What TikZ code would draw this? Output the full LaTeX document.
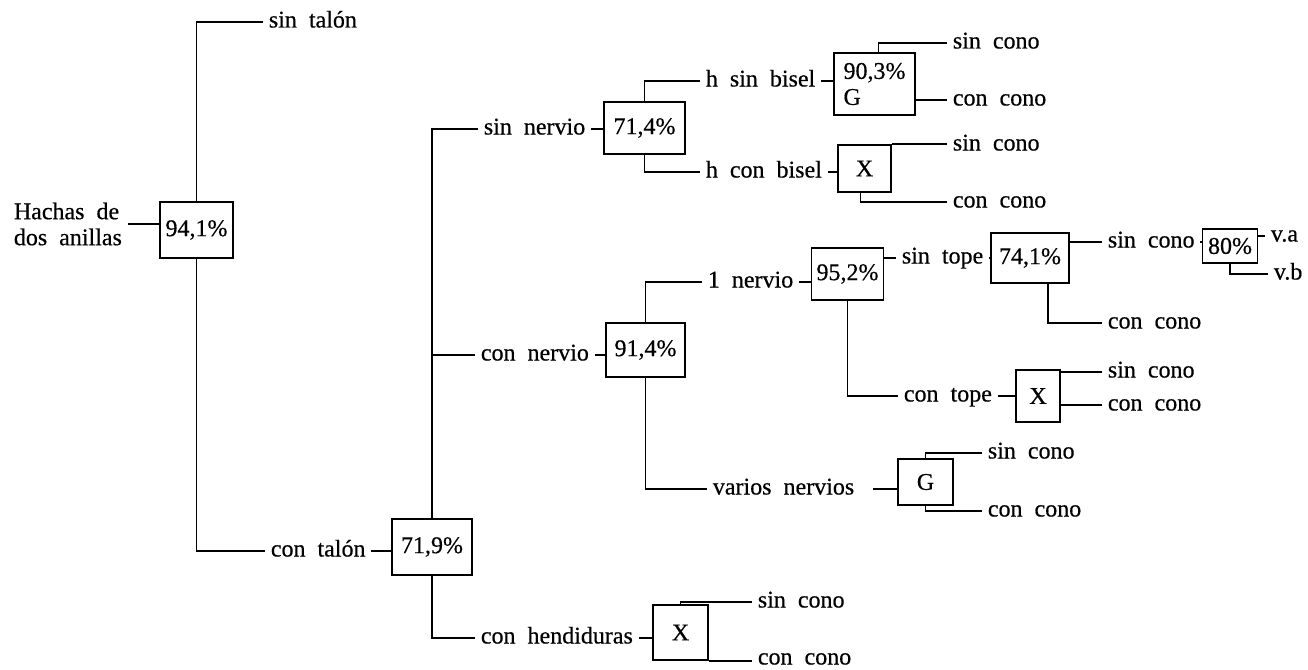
\documentclass[tikz,border=0pt]{standalone}
\usepackage{fontspec}
\setmainfont{Liberation Serif}[WordSpace=2,FakeBold=0.5]

\begin{document}
\begin{tikzpicture}[x=1pt,y=-1pt,line width=1.8pt,
  lbl/.style={anchor=west,inner sep=0pt,inner xsep=5pt,text height=14pt,text depth=3pt,font=\fontsize{24}{26}\selectfont},
  pbox/.style={draw,inner sep=2pt,font=\fontsize{24}{26}\selectfont}]
\path[use as bounding box] (0,0) rectangle (1308,669);
% boxes
\node[pbox,minimum width=73pt,minimum height=56pt] (b941) at (196.5,230) {94,1\%};
\node[pbox,minimum width=80pt,minimum height=56pt] (b719) at (432,547) {71,9\%};
\node[pbox,minimum width=81pt,minimum height=52pt] (b714) at (644.5,128) {71,4\%};
\node[pbox,minimum width=81pt,minimum height=62pt,align=left] (b903) at (874.5,84) {90,3\%\\G};
\node[pbox,minimum width=53pt,minimum height=47pt] (xbis) at (864.5,168.5) {X};
\node[pbox,minimum width=79pt,minimum height=54pt] (b914) at (645.5,350) {91,4\%};
\node[pbox,minimum width=72pt,minimum height=52pt] (b952) at (847.5,274) {95,2\%};
\node[pbox,minimum width=78pt,minimum height=50pt] (b741) at (1030,258) {74,1\%};
\node[pbox,minimum width=55pt,minimum height=34pt] (b80) at (1230,246) {80\%};
\node[pbox,minimum width=44pt,minimum height=52pt] (xtop) at (1038,396) {X};
\node[pbox,minimum width=55pt,minimum height=46pt] (gvar) at (925.5,482) {G};
\node[pbox,minimum width=55pt,minimum height=55pt] (xhen) at (680.5,632.5) {X};
% labels
\node[lbl,text height=,text depth=,align=left] (hach) at (8,224) {Hachas de\\dos anillas};
\node[lbl] (stal) at (263,22) {sin talón};
\node[lbl] (ctal) at (265,551) {con talón};
\node[lbl] (snerv) at (478,129) {sin nervio};
\node[lbl] (cnerv) at (475,355) {con nervio};
\node[lbl] (chend) at (475,638) {con hendiduras};
\node[lbl] (hsb) at (700,81) {h sin bisel};
\node[lbl] (hcb) at (700,172) {h con bisel};
\node[lbl] (sc1) at (947,43) {sin cono};
\node[lbl] (cc1) at (947,100) {con cono};
\node[lbl] (sc2) at (947,145) {sin cono};
\node[lbl] (cc2) at (947,202) {con cono};
\node[lbl] (n1) at (702,282) {1 nervio};
\node[lbl] (vnerv) at (707,489) {varios nervios};
\node[lbl] (sc3) at (982,453) {sin cono};
\node[lbl] (cc3) at (982,511) {con cono};
\node[lbl] (stope) at (896,258) {sin tope};
\node[lbl] (ctope) at (898,396) {con tope};
\node[lbl] (sc4) at (1102,242) {sin cono};
\node[lbl] (cc4) at (1102,323) {con cono};
\node[lbl] (va) at (1265,236) {v.a};
\node[lbl] (vb) at (1268,274) {v.b};
\node[lbl] (sc5) at (1102,372) {sin cono};
\node[lbl] (cc5) at (1102,405) {con cono};
\node[lbl] (sc6) at (752,602) {sin cono};
\node[lbl] (cc6) at (752,659) {con cono};
% connectors
\draw (hach.east) -- (hach.east -| b941.west);
\draw (b941.north) |- (stal.west);
\draw (b941.south) |- (ctal.west);
\draw (ctal.east) -- (ctal.east -| b719.west);
\draw (b719.north) |- (snerv.west);
\draw (b719.north) |- (cnerv.west);
\draw (b719.south) |- (chend.west);
\draw (snerv.east) -- (snerv.east -| b714.west);
\draw (b714.north) |- (hsb.west);
\draw (b714.south) |- (hcb.west);
\draw (hsb.east) -- (hsb.east -| b903.west);
\draw (hcb.east) -- (hcb.east -| xbis.west);
\draw ([xshift=4pt]b903.north) |- (sc1.west);
\draw (b903.east |- cc1.west) -- (cc1.west);
\draw (xbis.north east) -- (xbis.north east -| sc2.west);
\draw ([xshift=-4pt]xbis.south) |- (cc2.west);
\draw (cnerv.east) -- (cnerv.east -| b914.west);
\draw (b914.north) |- (n1.west);
\draw (b914.south) |- (vnerv.west);
\draw (n1.east) -- (n1.east -| b952.west);
\draw (b952.east |- stope.west) -- (stope.west);
\draw (b952.south) |- (ctope.west);
\draw (stope.east) -- (stope.east -| b741.west);
\draw (b741.east |- sc4.west) -- (sc4.west);
\draw ([xshift=18pt]b741.south) |- (cc4.west);
\draw (sc4.east) -- (sc4.east -| b80.west);
\draw (b80.east |- va.west) -- (va.west);
\draw (b80.south) |- (vb.west);
\draw (ctope.east) -- (ctope.east -| xtop.west);
\draw (xtop.east |- sc5.west) -- (sc5.west);
\draw (xtop.east |- cc5.west) -- (cc5.west);
\draw[shorten <=13pt] (vnerv.east) -- (vnerv.east -| gvar.west);
\draw (gvar.north) |- (sc3.west);
\draw (gvar.south) |- (cc3.west);
\draw (chend.east) -- (chend.east -| xhen.west);
\draw (xhen.north) |- (sc6.west);
\draw (xhen.south east) -- (xhen.south east -| cc6.west);
\end{tikzpicture}
\end{document}
